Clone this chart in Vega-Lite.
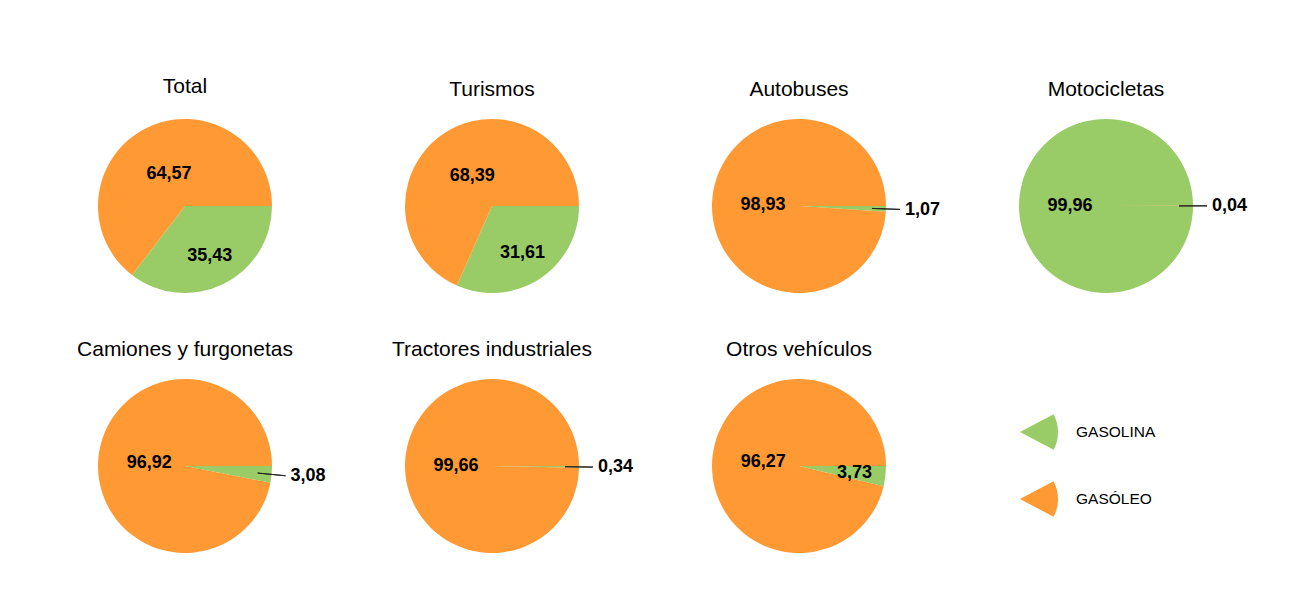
{
  "$schema": "https://vega.github.io/schema/vega-lite/v6.json",
  "padding": {"left": 77, "top": 75, "right": 0, "bottom": 0},
  "background": "white",
  "bounds": "flush",
  "data": {"values": [
    {"tipo": "Total", "combustible": "GASOLINA", "valor": 35.43},
    {"tipo": "Total", "combustible": "GASÓLEO", "valor": 64.57},
    {"tipo": "Turismos", "combustible": "GASOLINA", "valor": 31.61},
    {"tipo": "Turismos", "combustible": "GASÓLEO", "valor": 68.39},
    {"tipo": "Autobuses", "combustible": "GASOLINA", "valor": 1.07},
    {"tipo": "Autobuses", "combustible": "GASÓLEO", "valor": 98.93},
    {"tipo": "Motocicletas", "combustible": "GASOLINA", "valor": 99.96},
    {"tipo": "Motocicletas", "combustible": "GASÓLEO", "valor": 0.04},
    {"tipo": "Camiones y furgonetas", "combustible": "GASOLINA", "valor": 3.08},
    {"tipo": "Camiones y furgonetas", "combustible": "GASÓLEO", "valor": 96.92},
    {"tipo": "Tractores industriales", "combustible": "GASOLINA", "valor": 0.34},
    {"tipo": "Tractores industriales", "combustible": "GASÓLEO", "valor": 99.66},
    {"tipo": "Otros vehículos", "combustible": "GASOLINA", "valor": 3.73},
    {"tipo": "Otros vehículos", "combustible": "GASÓLEO", "valor": 96.27}
  ]},
  "facet": {
    "field": "tipo",
    "type": "nominal",
    "sort": ["Total", "Turismos", "Autobuses", "Motocicletas", "Camiones y furgonetas", "Tractores industriales", "Otros vehículos"],
    "header": {"title": null, "labelFontSize": 21, "labelFont": "Liberation Sans", "labelColor": "black", "labelPadding": 5}
  },
  "columns": 4,
  "spacing": {"row": 60, "column": 107},
  "spec": {
    "width": 200,
    "height": 200,
    "encoding": {
      "theta": {"field": "valor", "type": "quantitative", "stack": true, "scale": {"range": [1.5707963268, 7.853981634]}}
    },
    "layer": [
      {
        "mark": {"type": "arc", "outerRadius": 87},
        "encoding": {
          "color": {
            "field": "combustible",
            "type": "nominal",
            "scale": {"domain": ["GASOLINA", "GASÓLEO"], "range": ["#99cc66", "#ff9933"]},
            "legend": {
              "title": null,
              "orient": "none",
              "legendX": 935,
              "legendY": 307,
              "symbolType": "M-1,0L0.766,-0.94A2,2 0 0,1 0.766,0.94Z",
              "symbolSize": 1444,
              "symbolStrokeWidth": 0,
              "labelFontSize": 15.5,
              "labelFont": "Liberation Sans",
              "labelColor": "black",
              "rowPadding": 30,
              "labelOffset": 18
            }
          }
        }
      },
      {
        "mark": {"type": "arc", "innerRadius": 73, "outerRadius": 101, "padAngle": 0.2, "fill": "white", "fillOpacity": 0, "stroke": "#222222", "strokeWidth": 1},
        "encoding": {
          "detail": {"field": "combustible"},
          "strokeOpacity": {"condition": {"test": "datum.valor < 3.5", "value": 1}, "value": 0}
        }
      },
      {
        "mark": {"type": "text", "radius": 36, "fontSize": 18, "fontWeight": "bold", "font": "Liberation Sans", "color": "black"},
        "encoding": {
          "detail": {"field": "combustible"},
          "text": {"field": "valor", "type": "quantitative", "format": ".2f"},
          "opacity": {"condition": {"test": "datum.valor >= 50", "value": 1}, "value": 0}
        }
      },
      {
        "mark": {"type": "text", "radius": 56, "fontSize": 18, "fontWeight": "bold", "font": "Liberation Sans", "color": "black"},
        "encoding": {
          "detail": {"field": "combustible"},
          "text": {"field": "valor", "type": "quantitative", "format": ".2f"},
          "opacity": {"condition": {"test": "datum.valor >= 3.5 && datum.valor < 50", "value": 1}, "value": 0}
        }
      },
      {
        "mark": {"type": "text", "radius": 106, "align": "left", "fontSize": 18, "fontWeight": "bold", "font": "Liberation Sans", "color": "black"},
        "encoding": {
          "detail": {"field": "combustible"},
          "text": {"field": "valor", "type": "quantitative", "format": ".2f"},
          "opacity": {"condition": {"test": "datum.valor < 3.5", "value": 1}, "value": 0}
        }
      }
    ]
  },
  "config": {
    "view": {"stroke": null},
    "font": "Liberation Sans",
    "locale": {"number": {"decimal": ",", "thousands": ".", "grouping": [3], "currency": ["", " €"]}}
  }
}
